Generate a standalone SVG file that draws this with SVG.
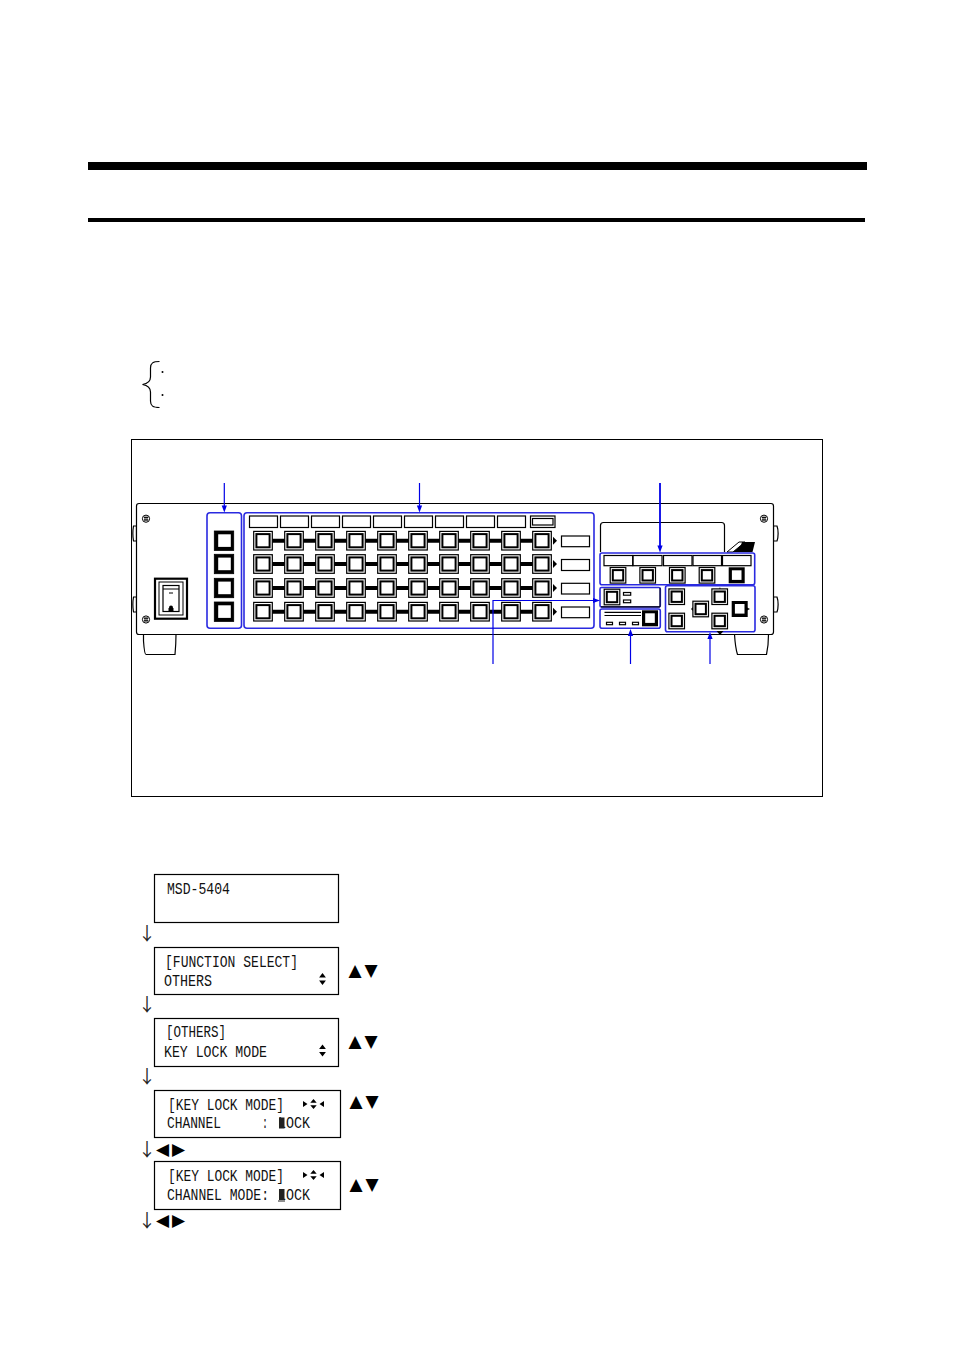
<svg xmlns="http://www.w3.org/2000/svg" xmlns:xlink="http://www.w3.org/1999/xlink" width="954" height="1350" viewBox="0 0 954 1350">
<style>
.ln{fill:none;stroke:#000;stroke-width:1.2}
.lf{fill:#fff;stroke:#000;stroke-width:1.2}
.blue{fill:none;stroke:#2a2ae0;stroke-width:1.6}
.wire{fill:none;stroke:#0000e6;stroke-width:1.2}
.head{fill:#0000e6}
.bar{stroke:#000;stroke-width:4;fill:none}
.lcd{fill:#fff;stroke:#000;stroke-width:1.2}
.t{font-family:"Liberation Mono","DejaVu Sans Mono",monospace;font-size:16.5px;fill:#111}
.s{font-family:"DejaVu Sans",sans-serif;font-size:17px;fill:#000}
.a{font-family:"Noto Sans CJK JP","DejaVu Sans",sans-serif;font-size:18px;fill:#222}
</style>
<defs>
<g id="b"><rect x="-9.3" y="-9.3" width="18.6" height="18.6" fill="#fff" stroke="#000" stroke-width="1.2"/><rect x="-6.6" y="-6.6" width="13.2" height="13.2" fill="#fff" stroke="#000" stroke-width="2"/></g>
<g id="bk"><rect x="-9.7" y="-9.7" width="19.4" height="19.4" fill="#000"/><rect x="-5.8" y="-6.4" width="12.6" height="12.6" fill="#fff"/><rect x="-9.7" y="-9.7" width="19.4" height="19.4" fill="none" stroke="#000" stroke-width=".8"/></g>
<g id="m"><rect x="-7.8" y="-7.8" width="15.6" height="15.6" fill="#fff" stroke="#000" stroke-width="1.2"/><rect x="-5.2" y="-5.2" width="10.4" height="10.4" fill="#fff" stroke="#000" stroke-width="2"/></g>
<g id="mk"><rect x="-8" y="-8" width="16" height="16" fill="#000"/><rect x="-4.8" y="-5" width="9.6" height="9.6" fill="#fff"/></g>
<g id="sc"><circle r="3.6" fill="#fff" stroke="#000" stroke-width="1"/><path d="M-2-1.2H2.2M-2 1.2H2.2M-1-2.4V2.4M1-2.4V2.4" stroke="#000" stroke-width=".9"/></g>
<g id="ud"><path d="M0-6 3.4-1.6H-3.4ZM0 6 3.4 1.6H-3.4Z" fill="#000"/></g>
<g id="lr"><path d="M0-5 3.2-1.2H-3.2ZM0 5 3.2 1.2H-3.2ZM-10.5-3V3L-6 0ZM10.5-3V3L6 0Z" fill="#000"/></g>
<path id="ah" d="M0 0-2.6-7H2.6Z" class="head"/>
<path id="trr" d="M0-4 4 0 0 4Z" fill="#000"/>
</defs>

<g id="page-rules">
<rect x="88" y="162" width="779" height="8" fill="#000"/>
<rect x="88" y="218" width="777" height="4" fill="#000"/>
</g>

<g id="brace"><path class="ln" d="M159.5 361.5C153 361.5 150.5 363 150.5 368V377C150.5 381.5 148 383.5 142.5 384.5 148 385.5 150.5 387.5 150.5 392V401C150.5 406 153 407.5 159.5 407.5" stroke-width="1.4"/><circle cx="162.5" cy="372" r="1" fill="#000"/><circle cx="162.5" cy="395" r="1" fill="#000"/></g>

<g id="frame"><rect x="131.5" y="439.5" width="691" height="357" fill="#fff" stroke="#000" stroke-width="1"/></g>

<g id="device">
<path class="lf" d="M143.500 634.500V641C144 648 145 654.500 146 654.500H175C175.500 649 176 641 176 634.500Z"/>
<path class="lf" d="M734.500 634.500C735 642 736 650 737.500 654.500H766.500C767.500 650 768.500 642 768.500 634.500Z"/>
<path class="lf" d="M136.500 526H133.500C132.800 530 132.800 537 133.500 541H136.500ZM136.500 597H133.500C132.800 601 132.800 608 133.500 612H136.500ZM773.500 526H777C778.500 530 778.500 537 777 541H773.500ZM773.500 597H777C778.500 601 778.500 608 777 612H773.500Z"/>
<rect class="lf" x="136.500" y="503.500" width="637" height="131" rx="2.500"/>
<use href="#sc" x="146" y="518.700"/><use href="#sc" x="146" y="619.500"/><use href="#sc" x="764" y="518.700"/><use href="#sc" x="764" y="619.500"/>
</g>

<g id="power-switch">
<rect x="155" y="578.700" width="32" height="40" fill="#fff" stroke="#000" stroke-width="2.200"/>
<rect x="159" y="582" width="24" height="33" fill="#fff" stroke="#000" stroke-width="1"/>
<rect x="163" y="585.500" width="16" height="26" fill="#fff" stroke="#000" stroke-width="1.200"/>
<path d="M163 589H179" stroke="#000"/>
<path d="M169 593H173" stroke="#000"/>
<circle cx="171" cy="607.500" r="2" fill="#000"/><rect x="168.500" y="608" width="5" height="3" fill="#000"/>
</g>

<g id="left-column">
<rect class="blue" x="207" y="512.700" width="34.500" height="115.600" rx="3"/>
<use href="#bk" x="224" y="540.700"/><use href="#bk" x="224" y="564"/><use href="#bk" x="224" y="588"/><use href="#bk" x="224" y="611.700"/>
</g>

<g id="matrix">
<rect class="blue" x="244" y="512.700" width="350" height="115.600" rx="3"/>
<g class="ln">
<rect x="249.500" y="516" width="28" height="11.500"/><rect x="280.500" y="516" width="28" height="11.500"/><rect x="311.500" y="516" width="28" height="11.500"/><rect x="342.500" y="516" width="28" height="11.500"/><rect x="373.500" y="516" width="28" height="11.500"/><rect x="404.500" y="516" width="28" height="11.500"/><rect x="435.500" y="516" width="28" height="11.500"/><rect x="466.500" y="516" width="28" height="11.500"/><rect x="497.500" y="516" width="28" height="11.500"/>
<rect x="530.500" y="516" width="24.500" height="11.500"/><rect x="532.500" y="518.500" width="20.500" height="6.500"/>
<rect x="561.500" y="536" width="28" height="10.700"/><rect x="561.500" y="559.500" width="28" height="11"/><rect x="561.500" y="583.300" width="28" height="10.700"/><rect x="561.500" y="607" width="28" height="10.700"/>
</g>
<path class="bar" d="M263 540.700H552M263 564H552M263 588H552M263 611.700H552"/>
<use href="#trr" x="553" y="540.700"/><use href="#trr" x="553" y="564"/><use href="#trr" x="553" y="588"/><use href="#trr" x="553" y="611.700"/>
<use href="#b" x="263" y="540.700"/><use href="#b" x="294" y="540.700"/><use href="#b" x="325" y="540.700"/><use href="#b" x="356" y="540.700"/><use href="#b" x="387" y="540.700"/><use href="#b" x="418" y="540.700"/><use href="#b" x="449" y="540.700"/><use href="#b" x="480" y="540.700"/><use href="#b" x="511" y="540.700"/><use href="#b" x="542" y="540.700"/>
<use href="#b" x="263" y="564"/><use href="#b" x="294" y="564"/><use href="#b" x="325" y="564"/><use href="#b" x="356" y="564"/><use href="#b" x="387" y="564"/><use href="#b" x="418" y="564"/><use href="#b" x="449" y="564"/><use href="#b" x="480" y="564"/><use href="#b" x="511" y="564"/><use href="#b" x="542" y="564"/>
<use href="#b" x="263" y="588"/><use href="#b" x="294" y="588"/><use href="#b" x="325" y="588"/><use href="#b" x="356" y="588"/><use href="#b" x="387" y="588"/><use href="#b" x="418" y="588"/><use href="#b" x="449" y="588"/><use href="#b" x="480" y="588"/><use href="#b" x="511" y="588"/><use href="#b" x="542" y="588"/>
<use href="#b" x="263" y="611.700"/><use href="#b" x="294" y="611.700"/><use href="#b" x="325" y="611.700"/><use href="#b" x="356" y="611.700"/><use href="#b" x="387" y="611.700"/><use href="#b" x="418" y="611.700"/><use href="#b" x="449" y="611.700"/><use href="#b" x="480" y="611.700"/><use href="#b" x="511" y="611.700"/><use href="#b" x="542" y="611.700"/>
</g>

<g id="display-window"><path class="lf" d="M600.500 552V525.500Q600.500 522.500 603.500 522.500H721.500Q724.500 522.500 724.500 525.500V552"/></g>
<g id="logo"><path d="M727 552 739 542H745L733 552Z" fill="none" stroke="#000"/><path d="M733 552 745 542H747V552Z" fill="#000"/><path d="M739 552 742 542H755L752.500 552Z" fill="#000"/></g>

<g id="function-keys">
<rect class="blue" x="600" y="553" width="154.700" height="31.700" rx="2"/>
<g class="ln"><rect x="604" y="555.500" width="28.700" height="10.200"/><rect x="633" y="555.500" width="29" height="10.200"/><rect x="663.500" y="555.500" width="28.500" height="10.200"/><rect x="693" y="555.500" width="28.500" height="10.200"/><rect x="722.500" y="555.500" width="28.500" height="10.200"/></g>
<use href="#m" x="618" y="575.300"/><use href="#m" x="647.700" y="575.300"/><use href="#m" x="677.300" y="575.300"/><use href="#m" x="707" y="575.300"/><use href="#mk" x="736.700" y="575.300"/>
</g>

<g id="mode-key">
<rect class="blue" x="600" y="587.500" width="60.300" height="19.500" rx="1.500"/><path d="M601 606.800H660" stroke="#000" stroke-width="1.200"/><path d="M660 588V607" stroke="#000" stroke-width="1"/>
<use href="#m" x="612" y="597"/>
<rect class="ln" x="623.500" y="592.500" width="7.200" height="2.700" stroke-width="1"/><rect class="ln" x="623.500" y="600" width="7.200" height="2.700" stroke-width="1"/>
</g>

<g id="remote-key">
<rect class="blue" x="600" y="609" width="60.300" height="19.300" rx="2"/>
<path class="ln" d="M604.500 612.300H641M604.500 615.500H641"/>
<g class="ln" stroke-width="1"><rect x="606.500" y="622.300" width="6" height="2.400"/><rect x="619.500" y="622.300" width="6" height="2.400"/><rect x="632.500" y="622.300" width="6" height="2.400"/></g>
<use href="#mk" x="650" y="618.300"/>
</g>

<g id="cursor-keys">
<rect class="blue" x="665.500" y="585.800" width="89.500" height="45.900" rx="2"/>
<path d="M720 587 720.500 589V591H718.500ZM720 635 716.500 631H723.500ZM691 609 695 605V613ZM750 609 746 607V611Z" fill="#000"/>
<use href="#m" x="676.700" y="596.700"/><use href="#m" x="676.700" y="621"/><use href="#m" x="700.700" y="609"/><use href="#m" x="719.700" y="596.700"/><use href="#m" x="719.700" y="621"/><use href="#mk" x="739.700" y="609"/>
</g>

<g id="connectors">
<path class="wire" d="M224.300 483V506"/><use href="#ah" x="224.300" y="512.500"/>
<path class="wire" d="M419.500 483V506"/><use href="#ah" x="419.500" y="512.500"/>
<path class="wire" stroke-width="1.800" d="M660 483V546" style="stroke-width:1.800"/><use href="#ah" x="660" y="552.500"/>
<path class="wire" d="M493 664V600.500H594"/><path class="head" d="M600 600.500 593 597.900V603.100Z"/>
<path class="wire" d="M630.500 664V635"/><path class="head" d="M630.500 629 627.900 636H633.100Z"/>
<path class="wire" d="M710 664V638"/><path class="head" d="M710 632 707.400 639H712.600Z"/>
</g>

<g id="lcd-1"><rect class="lcd" x="154.500" y="874.500" width="184" height="48"/><text class="t" x="167" y="894.300" textLength="63" lengthAdjust="spacingAndGlyphs">MSD-5404</text></g>
<g id="lcd-2"><rect class="lcd" x="154.500" y="947.500" width="184" height="47"/><text class="t" x="165" y="966.700" textLength="133" lengthAdjust="spacingAndGlyphs">[FUNCTION SELECT]</text><text class="t" x="164" y="985.700" textLength="48" lengthAdjust="spacingAndGlyphs">OTHERS</text><use href="#ud" x="322.500" y="979"/></g>
<g id="lcd-3"><rect class="lcd" x="154.500" y="1018.500" width="184" height="48"/><text class="t" x="166" y="1037.300" textLength="60" lengthAdjust="spacingAndGlyphs">[OTHERS]</text><text class="t" x="164" y="1056.700" textLength="103" lengthAdjust="spacingAndGlyphs">KEY LOCK MODE</text><use href="#ud" x="322.500" y="1050.500"/></g>
<g id="lcd-4"><rect class="lcd" x="154.500" y="1090.500" width="186" height="47"/><text class="t" x="168" y="1110" textLength="116" lengthAdjust="spacingAndGlyphs">[KEY LOCK MODE]</text><use href="#lr" x="313.500" y="1104"/><text class="t" x="167" y="1128.300" textLength="54" lengthAdjust="spacingAndGlyphs">CHANNEL</text><text class="t" x="262" y="1128.300" textLength="6" lengthAdjust="spacingAndGlyphs">:</text><text class="t" x="278" y="1128.300" textLength="32" lengthAdjust="spacingAndGlyphs">LOCK</text><rect x="279" y="1117.500" width="5.500" height="11" fill="#222"/></g>
<g id="lcd-5"><rect class="lcd" x="154.500" y="1161.500" width="186" height="48"/><text class="t" x="168" y="1181" textLength="116" lengthAdjust="spacingAndGlyphs">[KEY LOCK MODE]</text><use href="#lr" x="313.500" y="1175"/><text class="t" x="167" y="1200" textLength="102" lengthAdjust="spacingAndGlyphs">CHANNEL MODE:</text><text class="t" x="278" y="1200" textLength="32" lengthAdjust="spacingAndGlyphs">LOCK</text><rect x="279" y="1189" width="5.500" height="11" fill="#222"/><rect x="278" y="1200.500" width="7" height="1" fill="#222"/></g>

<g id="flow-arrows">
<text class="a" x="138" y="940">↓</text><text class="a" x="138" y="1011">↓</text><text class="a" x="138" y="1083">↓</text><text class="a" x="138" y="1156">↓</text><text class="a" x="138" y="1227">↓</text>
</g>
<g id="keys-symbols">
<text class="s" x="348.500" y="976">▲</text><text class="s" x="364.500" y="976">▼</text>
<text class="s" x="348.500" y="1047">▲</text><text class="s" x="364.500" y="1047">▼</text>
<text class="s" x="349.500" y="1107">▲</text><text class="s" x="365.500" y="1107">▼</text>
<text class="s" x="349.500" y="1190">▲</text><text class="s" x="365.500" y="1190">▼</text>
<text class="s" x="156" y="1155">◀</text><text class="s" x="172" y="1155">▶</text>
<text class="s" x="156" y="1226">◀</text><text class="s" x="172" y="1226">▶</text>
</g>
</svg>
